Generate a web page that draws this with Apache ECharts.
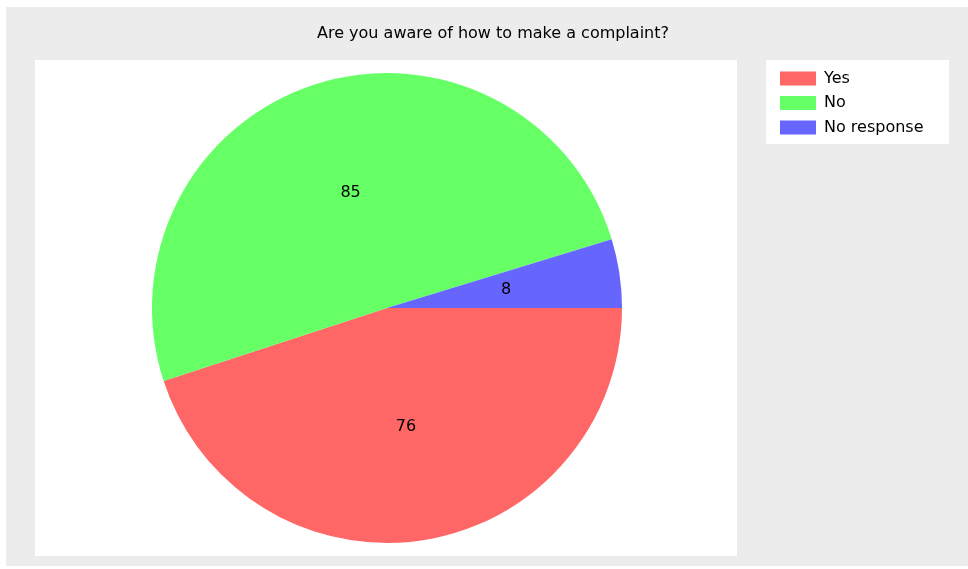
<!DOCTYPE html>
<html>
<head>
<meta charset="utf-8">
<script src="https://cdn.jsdelivr.net/npm/echarts@6/dist/echarts.min.js"></script>
<style>
  html, body { margin: 0; padding: 0; background: #ffffff; }
  #chart { width: 968px; height: 569px; }
</style>
</head>
<body>
<div id="chart"></div>
<script>
// Survey answers
const categories = ['Yes', 'No', 'No response'];
const counts = [76, 85, 8];
const sliceColors = ['#ff6666', '#66ff66', '#6666ff'];
const titleText = 'Are you aware of how to make a complaint?';

const FONT = 'DejaVu Sans';

const chart = echarts.init(document.getElementById('chart'), null, { renderer: 'canvas' });

chart.setOption({
  backgroundColor: '#ffffff',
  animation: false,
  graphic: [
    // outer grey panel
    { type: 'rect', silent: true, z: -10, shape: { x: 6, y: 7, width: 962, height: 559 }, style: { fill: '#ececec' } },
    // white plot area
    { type: 'rect', silent: true, z: -9, shape: { x: 35, y: 60, width: 702, height: 496 }, style: { fill: '#ffffff' } },
    // white legend box
    { type: 'rect', silent: true, z: -9, shape: { x: 766, y: 60, width: 183, height: 84 }, style: { fill: '#ffffff' } }
  ],
  title: {
    text: titleText,
    left: 493,
    top: 26,
    textAlign: 'center',
    padding: 0,
    textStyle: { fontFamily: FONT, fontSize: 16, fontWeight: 'normal', color: '#000000' }
  },
  legend: {
    orient: 'vertical',
    left: 780,
    top: 70.5,
    padding: 0,
    itemWidth: 36,
    itemHeight: 14,
    itemGap: 8.5,
    icon: 'rect',
    selectedMode: false,
    data: categories,
    textStyle: { fontFamily: FONT, fontSize: 16, color: '#000000', lineHeight: 14, padding: [0, 0, 0, 3] }
  },
  series: [{
    type: 'pie',
    center: [387, 308],
    radius: 235,
    startAngle: 0,
    clockwise: true,
    silent: true,
    avoidLabelOverlap: false,
    itemStyle: { borderWidth: 0 },
    label: {
      show: true,
      position: 'inside',
      formatter: '{c}',
      fontFamily: FONT,
      fontSize: 16,
      color: '#000000'
    },
    labelLine: { show: false },
    emphasis: { disabled: true },
    data: categories.map((name, i) => ({
      name: name,
      value: counts[i],
      itemStyle: { color: sliceColors[i] }
    }))
  }]
});
</script>
</body>
</html>
